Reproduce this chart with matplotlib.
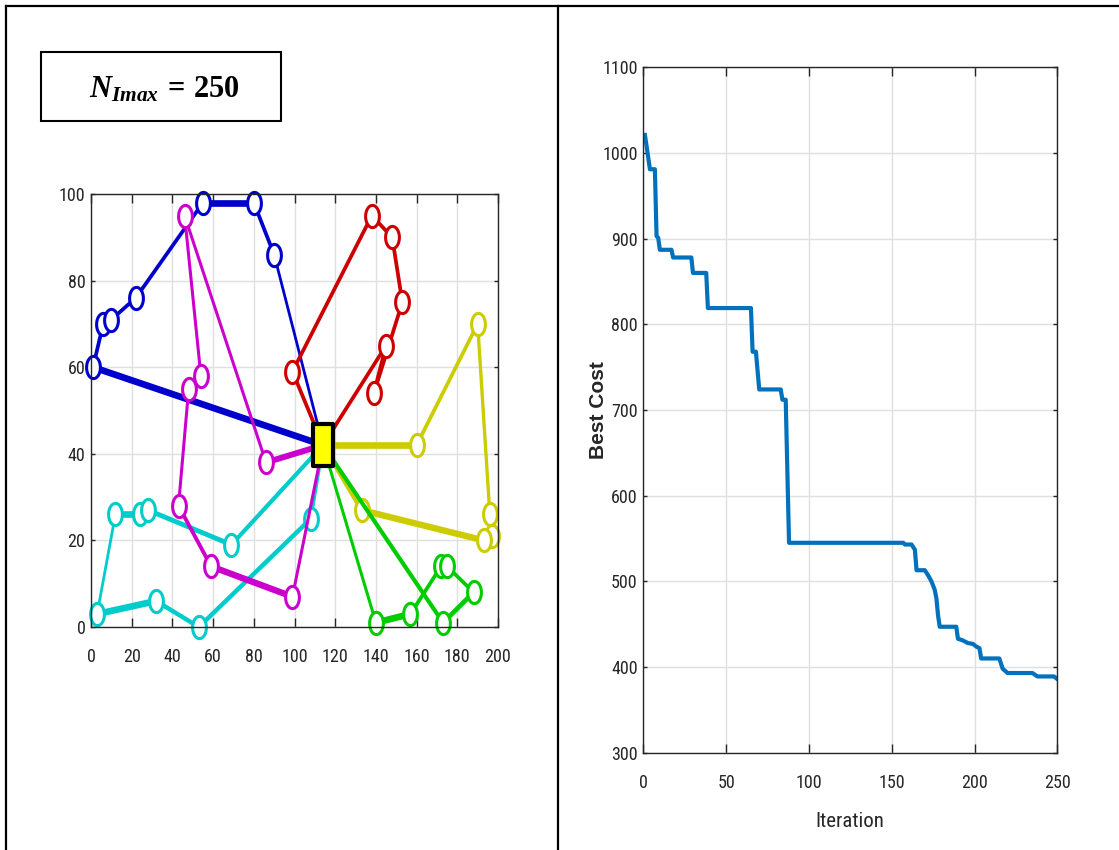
import numpy as np
import matplotlib
matplotlib.use('Agg')
import matplotlib.pyplot as plt
from matplotlib.path import Path
from matplotlib.lines import Line2D
from matplotlib.patches import Rectangle

plt.rcParams['font.family'] = ['Roboto Condensed', 'Liberation Sans', 'DejaVu Sans']
plt.rcParams['font.stretch'] = 'condensed'
plt.rcParams['mathtext.fontset'] = 'custom'
plt.rcParams['mathtext.rm'] = 'Liberation Serif:bold'
plt.rcParams['mathtext.it'] = 'Liberation Serif:italic:bold'
plt.rcParams['mathtext.bf'] = 'Liberation Serif:bold'

# depot and vehicle routes (visit order, depot at both ends)
depot = (114, 42)

blue_x = [114, 1, 6, 10, 22, 55, 80, 90, 114]
blue_y = [42, 60, 70, 71, 76, 98, 98, 86, 42]

magenta_x = [114, 86, 46, 54, 48, 43, 59, 99, 114]
magenta_y = [42, 38, 95, 58, 55, 28, 14, 7, 42]

cyan_x = [114, 108, 53, 32, 3, 12, 24, 28, 69, 114]
cyan_y = [42, 25, 0, 6, 3, 26, 26, 27, 19, 42]

green_x = [114, 140, 157, 172, 175, 188, 173, 114]
green_y = [42, 1, 3, 14, 14, 8, 1, 42]

yellow_x = [114, 160, 190, 196, 197, 193, 133, 114]
yellow_y = [42, 42, 70, 26, 21, 20, 27, 42]

red_x = [114, 99, 138, 148, 153, 139, 145, 114]
red_y = [42, 59, 95, 90, 75, 54, 65, 42]

# convergence curve (breakpoints of best cost)
iters = [1, 4, 7, 8, 9, 10, 17, 18, 29, 30, 38, 39, 65, 66, 68, 70, 83, 84, 86,
         88, 157, 158, 162, 164, 165, 170, 172, 174, 176, 177, 178, 179, 189,
         190, 193, 196, 199, 201, 203, 204, 215, 217, 220, 235, 238, 248, 250]
best_cost = [1021, 981, 981, 903, 901, 887, 887, 878, 878, 860, 860, 819, 819,
             768, 768, 724, 724, 712, 712, 545, 545, 543, 543, 537, 513, 513,
             507, 500, 490, 480, 460, 447, 447, 433, 431, 428, 427, 424, 422,
             410, 410, 398, 393, 393, 389, 389, 386]

# segment line widths per route (style)
routes = [
    (yellow_x, yellow_y, '#CCCC00', [4.8, 2.7, 2.4, 2.7, 2.7, 4.6, 3.2]),
    (cyan_x, cyan_y, '#00CCCC', [2.4, 3.2, 3.2, 4.8, 2.0, 4.8, 3.2, 3.5, 3.0]),
    (blue_x, blue_y, '#0000CC', [4.8, 2.7, 2.7, 2.7, 2.7, 4.8, 2.7, 2.0]),
    (red_x, red_y, '#CC0000', [2.7, 2.7, 2.7, 2.7, 2.7, 2.7, 2.7]),
    (magenta_x, magenta_y, '#CC00CC', [4.3, 2.2, 2.2, 2.2, 2.2, 2.8, 4.6, 2.2]),
    (green_x, green_y, '#00CC00', [2.2, 4.8, 2.7, 2.7, 2.7, 3.4, 3.0]),
]

t = np.linspace(0, 2 * np.pi, 60)
ellipse = Path(np.column_stack([0.62 * np.cos(t), np.sin(t)]), closed=True)
box = Path([(-0.47, -1), (0.47, -1), (0.47, 1), (-0.47, 1), (-0.47, -1)], closed=True)

fig = plt.figure(figsize=(11.19, 8.5), dpi=100)

# frame lines around the panels
for xs, ys in [([6 / 1119, 1], [1 - 6 / 850, 1 - 6 / 850]),
               ([6 / 1119, 6 / 1119], [0, 1 - 6 / 850]),
               ([558 / 1119, 558 / 1119], [0, 1 - 6 / 850])]:
    fig.add_artist(Line2D(xs, ys, transform=fig.transFigure, color='k', lw=1.6))

fig.add_artist(Rectangle((41 / 1119, 1 - 121 / 850), 240 / 1119, 69 / 850,
                         transform=fig.transFigure, fill=False, ec='k', lw=1.5))
fig.text(164 / 1119, 1 - 97 / 850, r'$N_{Imax}\,=\,\mathrm{250}$', fontsize=22,
         ha='center', va='baseline')


def style_axes(ax):
    ax.grid(True, color='#e0e0e0', lw=1.0)
    ax.set_axisbelow(True)
    for s in ax.spines.values():
        s.set_color('#262626')
        s.set_linewidth(1.0)
    ax.tick_params(direction='in', top=True, right=True, colors='#262626',
                   labelsize=13, width=1.0)
    ax.tick_params(axis='x', length=6.5, pad=15)
    ax.tick_params(axis='y', length=3, pad=4)


# left panel: routes
ax1 = fig.add_axes([91 / 1119, 1 - 627 / 850, 407 / 1119, 433 / 850])
for xs, ys, col, widths in routes:
    for i in range(len(xs) - 1):
        ax1.plot(xs[i:i + 2], ys[i:i + 2], color=col, lw=widths[i],
                 solid_capstyle='round', clip_on=False)
    ax1.plot(xs[1:-1], ys[1:-1], ls='none', marker=ellipse, ms=16,
             mfc='white', mec=col, mew=2.2, clip_on=False)
ax1.plot([depot[0]], [depot[1]], ls='none', marker=box, ms=30, mfc='#FFFF00',
         mec='k', mew=3.0, zorder=5, clip_on=False)
ax1.set_xlim(0, 200)
ax1.set_ylim(0, 100)
ax1.set_xticks(np.arange(0, 201, 20))
ax1.set_yticks(np.arange(0, 101, 20))
style_axes(ax1)

# right panel: convergence
ax2 = fig.add_axes([643.3 / 1119, 1 - 752.7 / 850, 414 / 1119, 685.4 / 850])
ax2.plot(iters, best_cost, color='#0072BD', lw=3.0)
ax2.set_xlim(0, 250)
ax2.set_ylim(300, 1100)
ax2.set_xticks(np.arange(0, 251, 50))
ax2.set_yticks(np.arange(300, 1101, 100))
style_axes(ax2)
ax2.set_xlabel('Iteration', fontsize=15, color='#262626', va='center')
ax2.xaxis.set_label_coords(0.5, -0.101)
ax2.set_ylabel('Best Cost', fontsize=15, family='Liberation Sans',
               fontweight='bold', color='#262626', va='center')
ax2.yaxis.set_label_coords(-0.109, 0.5)

fig.savefig('out.png', dpi=100)
